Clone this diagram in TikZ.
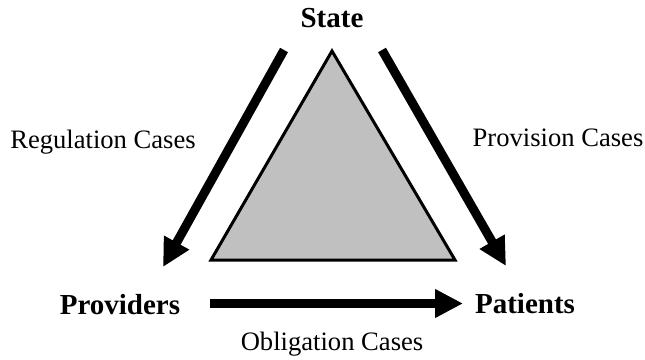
\documentclass[tikz,border=0pt]{standalone}
\usepackage{fontspec}
\setmainfont{Liberation Serif}
\usetikzlibrary{arrows.meta}
\definecolor{areagray}{HTML}{C0C0C0}

\begin{document}
\begin{tikzpicture}[x=1pt,y=-1pt,>={Triangle[length=28pt,width=27pt]},
    party/.style={anchor=base,inner sep=0pt,font=\fontsize{29}{32}\selectfont\bfseries},
    case/.style={anchor=base,inner sep=0pt,font=\fontsize{26.6}{30}\selectfont},
    flow/.style={->,line width=9pt}]

            \useasboundingbox (0,0) rectangle (645,359);

            \node[party] (state) at (332,27) {State};
            \node[party] (prov) at (120,314) {Providers};
            \node[party] (pat) at (525,313) {Patients};

            \node[case] (reg) at (103,148) {Regulation Cases};
            \node[case] (provis) at (558,146) {Provision Cases};
            \node[case] (oblig) at (332,350) {Obligation Cases};

            % triangle in the middle
            \draw[line width=3pt,fill=areagray,line join=miter] (332,51) -- (211,260) -- (455,260) -- cycle;

            \coordinate (reg a) at (284,50);
            \coordinate (reg b) at (163,267);
            \coordinate (provis a) at (382,50);
            \coordinate (provis b) at (506,266);
            \coordinate (oblig a) at (210,303.5);
            \coordinate (oblig b) at (463,303.5);

            \draw[flow] (reg a) -- (reg b);
            \draw[flow] (provis a) -- (provis b);
            \draw[flow] (oblig a) -- (oblig b);
        \end{tikzpicture}
\end{document}
